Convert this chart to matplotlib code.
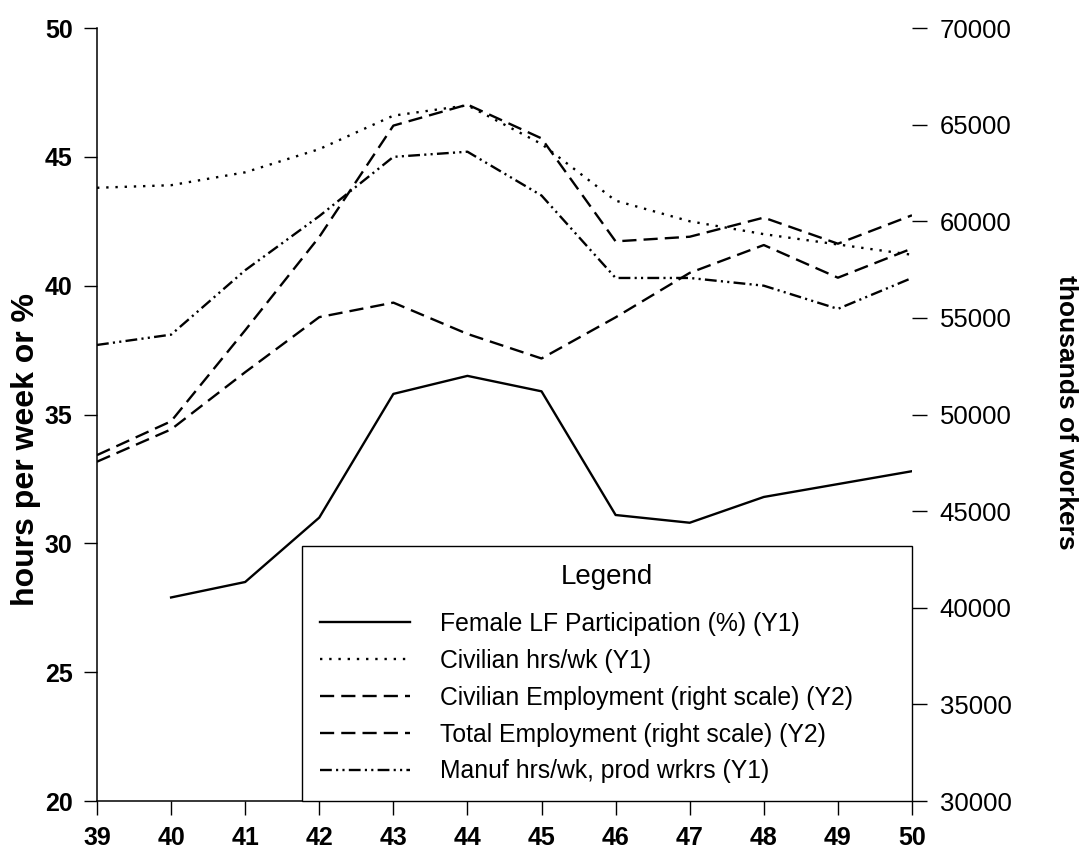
import numpy as np
import matplotlib
matplotlib.use("Agg")
import matplotlib.pyplot as plt

plt.rcParams['font.family'] = ['Liberation Sans', 'DejaVu Sans']

# data
years = [39, 40, 41, 42, 43, 44, 45, 46, 47, 48, 49, 50]

# left scale (Y1)
female_lf = [np.nan, 27.9, 28.5, 31.0, 35.8, 36.5, 35.9, 31.1, 30.8, 31.8, 32.3, 32.8]
civ_hrs = [43.8, 43.9, 44.4, 45.3, 46.6, 47.0, 45.5, 43.3, 42.5, 42.0, 41.6, 41.2]
manuf_hrs = [37.7, 38.1, 40.6, 42.7, 45.0, 45.2, 43.5, 40.3, 40.3, 40.0, 39.1, 40.3]

# right scale (Y2), thousands
civ_emp = [47560, 49230, 52190, 55040, 55790, 54170, 52900, 55030, 57330, 58770, 57080, 58590]
total_emp = [47900, 49650, 54360, 59190, 64950, 66040, 64290, 58960, 59200, 60190, 58840, 60310]

labels = ["Female LF Participation (%) (Y1)",
          "Civilian hrs/wk (Y1)",
          "Civilian Employment (right scale) (Y2)",
          "Total Employment (right scale) (Y2)",
          "Manuf hrs/wk, prod wrkrs (Y1)"]

fig = plt.figure(figsize=(10.79, 8.6), dpi=100)
ax = fig.add_axes([0.0899, 0.0686, 0.7553, 0.8988])
ax2 = ax.twinx()

lw = 1.7
dotted = (0, (1, 2.9))
dashed = (0, (6, 3))
dashdotdot = (0, (5, 1.8, 0.9, 1.8, 0.9, 1.8))

h1, = ax.plot(years, female_lf, color='black', lw=lw, ls='-')
h2, = ax.plot(years, civ_hrs, color='black', lw=lw, ls=dotted)
h5, = ax.plot(years, manuf_hrs, color='black', lw=lw, ls=dashdotdot)
h3, = ax2.plot(years, civ_emp, color='black', lw=lw, ls=dashed)
h4, = ax2.plot(years, total_emp, color='black', lw=lw, ls=dashed)

ax.set_xlim(39, 50)
ax.set_ylim(20, 50)
ax2.set_ylim(30000, 70000)
ax.set_xticks(years)
ax.set_yticks(range(20, 51, 5))
ax2.set_yticks(range(30000, 70001, 5000))

for s in ['top', 'right']:
    ax.spines[s].set_visible(False)
for s in ['top', 'right', 'left', 'bottom']:
    ax2.spines[s].set_visible(False)
ax.spines['left'].set_linewidth(1.1)
ax.spines['bottom'].set_linewidth(1.1)

ax.tick_params(axis='x', direction='out', length=10, width=1, labelsize=18, pad=8)
ax.tick_params(axis='y', direction='out', length=9.5, width=1, labelsize=18, pad=8)
ax2.tick_params(axis='y', direction='out', length=11, width=1, labelsize=18.5, pad=9)
for lab in ax.get_xticklabels() + ax.get_yticklabels():
    lab.set_fontweight('bold')

fig.text(0.024, 0.477, "hours per week or %", rotation=90, ha='center', va='center',
         fontsize=23, fontweight='bold')
fig.text(0.988, 0.52, "thousands of workers", rotation=270, ha='center', va='center',
         fontsize=19, fontweight='bold')

leg = ax2.legend([h1, h2, h3, h4, h5], labels, title="Legend",
                 loc='lower left', bbox_to_anchor=(0.2515, 0, 0.7485, 0.33),
                 mode='expand', borderaxespad=0, fontsize=17.8, title_fontsize=20,
                 handlelength=3.66, handletextpad=1.21, labelspacing=0.52,
                 borderpad=0.71, fancybox=False, framealpha=1, edgecolor='black')
leg.get_frame().set_linewidth(1.0)
leg._legend_box.sep = 16

fig.savefig('out.png', dpi=100)
